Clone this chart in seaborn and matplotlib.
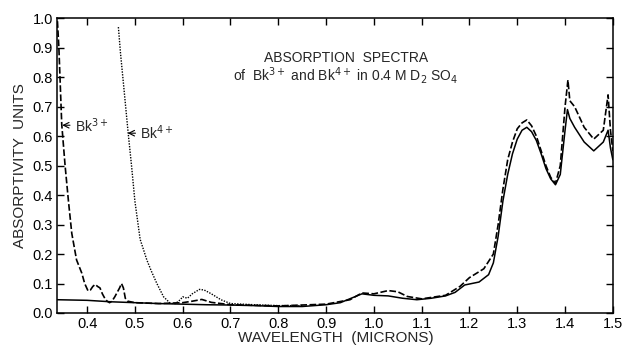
import matplotlib
matplotlib.use("Agg")
import matplotlib.pyplot as plt
import seaborn as sns
import pandas as pd

# ---- data ----
bk3_x = [0.338, 0.341, 0.347, 0.354, 0.361, 0.368, 0.378, 0.389, 0.395, 0.402, 0.407, 0.412,
         0.417, 0.422, 0.427, 0.432, 0.437, 0.442, 0.447, 0.452, 0.458, 0.463, 0.468, 0.472,
         0.476, 0.480, 0.485, 0.50, 0.55, 0.60, 0.62, 0.64, 0.66, 0.70, 0.80, 0.90, 0.95,
         0.975, 1.00, 1.03, 1.05, 1.07, 1.10, 1.15, 1.18, 1.20, 1.23, 1.25, 1.26, 1.27, 1.28,
         1.29, 1.30, 1.31, 1.32, 1.33, 1.34, 1.35, 1.36, 1.37, 1.38, 1.39, 1.40, 1.406, 1.41,
         1.42, 1.44, 1.46, 1.48, 1.49, 1.495, 1.50]
bk3_y = [0.99, 0.90, 0.64, 0.50, 0.38, 0.27, 0.18, 0.135, 0.10, 0.075, 0.078, 0.090,
         0.097, 0.090, 0.085, 0.065, 0.050, 0.040, 0.035, 0.040, 0.055, 0.070, 0.085, 0.100,
         0.085, 0.050, 0.040, 0.035, 0.032, 0.035, 0.040, 0.046, 0.036, 0.028, 0.024, 0.030, 0.045,
         0.068, 0.065, 0.076, 0.072, 0.056, 0.048, 0.060, 0.090, 0.120, 0.150, 0.200, 0.300, 0.420, 0.520,
         0.580, 0.625, 0.645, 0.655, 0.635, 0.600, 0.550, 0.500, 0.460, 0.440, 0.500, 0.700, 0.790, 0.720,
         0.700, 0.630, 0.590, 0.620, 0.740, 0.620, 0.550]

bk4_x = [0.4655, 0.470, 0.476, 0.486, 0.493, 0.500, 0.511, 0.525, 0.535, 0.546, 0.560, 0.574,
         0.585, 0.595, 0.600, 0.610, 0.620, 0.635, 0.645, 0.660, 0.680, 0.700, 0.750, 0.800, 0.850]
bk4_y = [0.97, 0.88, 0.78, 0.61, 0.50, 0.38, 0.25, 0.18, 0.14, 0.10, 0.055, 0.033,
         0.032, 0.045, 0.055, 0.050, 0.065, 0.080, 0.078, 0.065, 0.045, 0.032, 0.028, 0.025, 0.025]

base_x = [0.338, 0.40, 0.45, 0.50, 0.55, 0.60, 0.65, 0.70, 0.75, 0.80, 0.85, 0.90, 0.93, 0.96,
          0.975, 1.00, 1.03, 1.06, 1.09, 1.12, 1.15, 1.17, 1.19, 1.22, 1.24, 1.25, 1.26, 1.27,
          1.28, 1.29, 1.30, 1.31, 1.32, 1.33, 1.34, 1.35, 1.36, 1.37, 1.38, 1.39, 1.40, 1.405,
          1.41, 1.42, 1.44, 1.46, 1.48, 1.49, 1.495, 1.50]
base_y = [0.045, 0.043, 0.038, 0.035, 0.032, 0.030, 0.028, 0.027, 0.025, 0.022, 0.022, 0.028, 0.035, 0.055,
          0.065, 0.060, 0.058, 0.050, 0.045, 0.050, 0.058, 0.070, 0.095, 0.105, 0.130, 0.170, 0.260, 0.380,
          0.470, 0.540, 0.590, 0.620, 0.630, 0.615, 0.585, 0.540, 0.490, 0.455, 0.435, 0.470, 0.620, 0.690,
          0.660, 0.630, 0.580, 0.550, 0.580, 0.620, 0.560, 0.520]

xticks = [0.4, 0.5, 0.6, 0.7, 0.8, 0.9, 1.0, 1.1, 1.2, 1.3, 1.4, 1.5]
yticks = [0.0, 0.1, 0.2, 0.3, 0.4, 0.5, 0.6, 0.7, 0.8, 0.9, 1.0]

sns.set_theme(style="ticks")
plt.rcParams['font.family'] = ['Liberation Sans', 'DejaVu Sans']

fig = plt.figure(figsize=(6.26, 3.48), dpi=100)
ax = fig.add_axes([0.091, 0.1006, 0.888, 0.847])

df3 = pd.DataFrame({"x": bk3_x, "y": bk3_y})
df4 = pd.DataFrame({"x": bk4_x, "y": bk4_y})
dfb = pd.DataFrame({"x": base_x, "y": base_y})

sns.lineplot(data=dfb, x="x", y="y", ax=ax, color="black", lw=1.1, sort=False)
sns.lineplot(data=df3, x="x", y="y", ax=ax, color="black", lw=1.2, sort=False,
             linestyle=(0, (4, 1.5)))
sns.lineplot(data=df4, x="x", y="y", ax=ax, color="black", lw=1.0, sort=False,
             linestyle=(0, (1, 1)))

ax.set_xlim(0.337, 1.5)
ax.set_ylim(0.0, 1.0)
ax.set_xticks(xticks)
ax.set_xticklabels([f"{t:.1f}" for t in xticks])
ax.set_yticks(yticks)
ax.set_yticklabels([f"{t:.1f}" for t in yticks])
ax.tick_params(direction="in", length=5, width=1, top=True, right=True,
               labelsize=10.5, colors="black", pad=3)
for s in ax.spines.values():
    s.set_linewidth(1.1)
    s.set_color("black")

ax.set_xlabel("")
ax.set_ylabel("ABSORPTIVITY  UNITS", fontsize=11, labelpad=4)
fig.text(0.537, 0.03, "WAVELENGTH  (MICRONS)", ha="center", va="center", fontsize=11)

ax.text(0.52, 0.864, "ABSORPTION  SPECTRA", transform=ax.transAxes, ha="center",
        va="center", fontsize=10)
ax.text(0.52, 0.807, r"of  Bk$^{3+}$ and Bk$^{4+}$ in 0.4 M D$_2$ SO$_4$",
        transform=ax.transAxes, ha="center", va="center", fontsize=10)

ax.annotate(r"Bk$^{3+}$", xy=(0.348, 0.637), xytext=(0.374, 0.637),
            fontsize=10, va="center", ha="left",
            arrowprops=dict(arrowstyle="->", color="black", lw=0.8, shrinkA=1, shrinkB=0))
ax.annotate(r"Bk$^{4+}$", xy=(0.485, 0.61), xytext=(0.511, 0.61),
            fontsize=10, va="center", ha="left",
            arrowprops=dict(arrowstyle="->", color="black", lw=0.8, shrinkA=1, shrinkB=0))

fig.savefig("out.png", dpi=100)
